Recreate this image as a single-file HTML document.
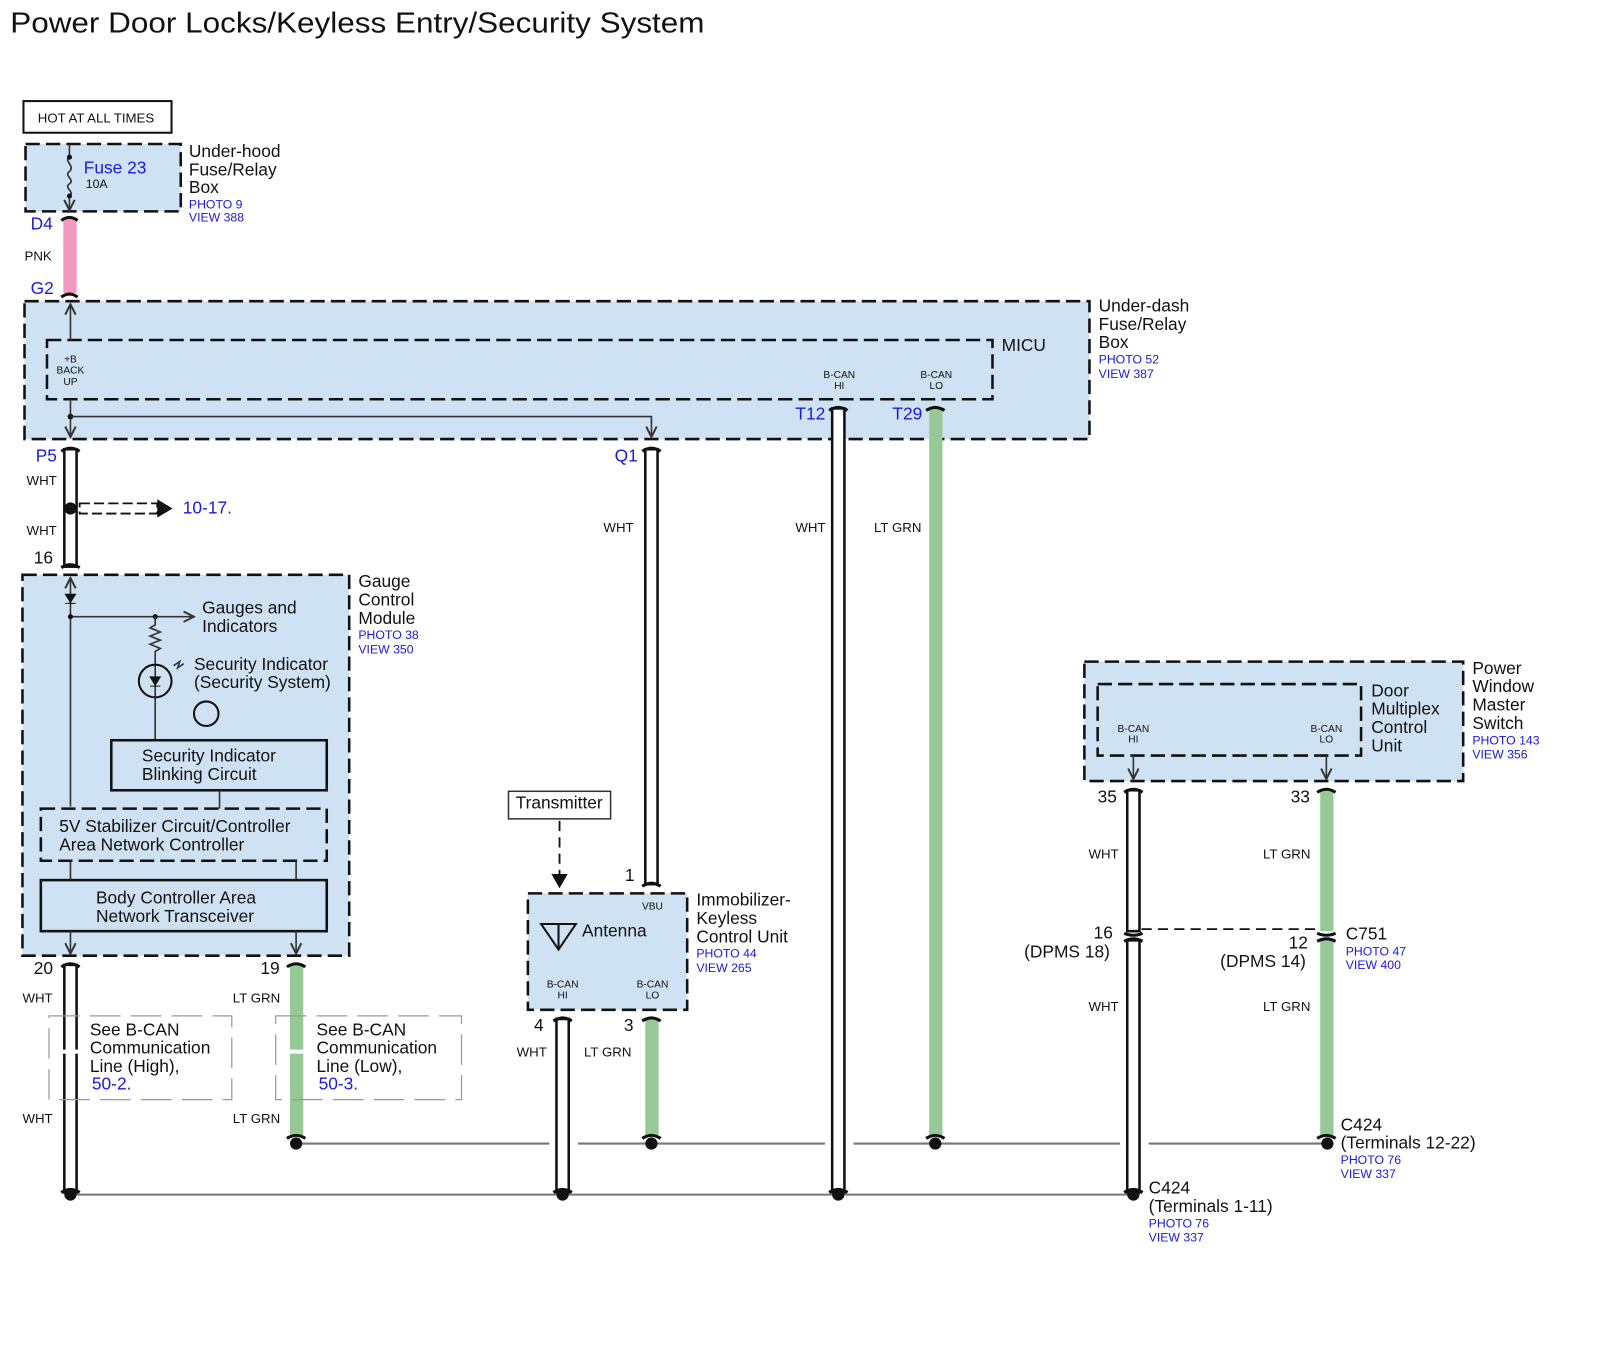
<!DOCTYPE html>
<html><head><meta charset="utf-8"><style>
html,body{margin:0;padding:0;background:#fff;}
svg{display:block;}
text{font-family:"Liberation Sans",Arial,sans-serif;fill:#111;}
.b{fill:#1a1adc;}
.box{fill:#cfe2f3;stroke:#111;stroke-width:2.5;stroke-dasharray:14 6;}
.ibox{fill:none;stroke:#111;stroke-width:2.5;stroke-dasharray:14 6;}
.sbox{fill:#cfe2f3;stroke:#111;stroke-width:2.5;}
.ww{fill:#fff;stroke:#111;stroke-width:2.5;}
.gw{fill:#96c995;stroke:none;}
.cap{fill:none;stroke:#111;stroke-width:3;}
.ln{stroke:#333;stroke-width:1.6;fill:none;}
.gl{stroke:#777;stroke-width:2;fill:none;}
.s17{font-size:17px;} .s13{font-size:13px;} .s12{font-size:12px;} .s10{font-size:10px;}
</style></head><body>
<svg width="1600" height="1360" viewBox="0 0 1567 1332" preserveAspectRatio="none" xmlns="http://www.w3.org/2000/svg">
<defs>
<marker id="ar" viewBox="0 0 10 10" refX="9" refY="5" markerWidth="8" markerHeight="8" orient="auto"><path d="M1,1 L9,5 L1,9" fill="none" stroke="#333" stroke-width="1.5"/></marker>
</defs>
<text x="10" y="32" font-size="28" textLength="680" lengthAdjust="spacingAndGlyphs">Power Door Locks/Keyless Entry/Security System</text>

<rect x="23" y="99" width="145" height="31" fill="#fff" stroke="#111" stroke-width="2"/>
<text x="37" y="120" class="s13">HOT AT ALL TIMES</text>

<rect x="25" y="141" width="152" height="66" class="box"/>
<path d="M68,141 L68,154 M68,168 C62,172 74,176 68,180 C62,184 74,188 68,192 M68,192 L68,206" class="ln" marker-end="url(#ar)"/>
<path d="M68,154 C62,158 74,162 68,168" class="ln"/>
<circle cx="68" cy="154" r="2.5" fill="#111"/><circle cx="68" cy="192" r="2.5" fill="#111"/>
<text x="82" y="170" class="s17 b">Fuse 23</text>
<text x="84" y="184" class="s12">10A</text>
<text x="185" y="154" class="s17">Under-hood</text>
<text x="185" y="172" class="s17">Fuse/Relay</text>
<text x="185" y="189" class="s17">Box</text>
<text x="185" y="204" class="s12 b">PHOTO 9</text>
<text x="185" y="217" class="s12 b">VIEW 388</text>
<text x="30" y="225" class="s17 b">D4</text>
<rect x="62" y="214" width="13" height="73" fill="#f49ac1"/>
<path d="M60,216 Q68,210 76,216" class="cap"/>
<path d="M60,291 Q68,285 76,291" class="cap"/>
<text x="24" y="255" class="s13">PNK</text>
<text x="30" y="288" class="s17 b">G2</text>

<rect x="24" y="295" width="1043" height="135" class="box"/>
<rect x="46" y="333" width="926" height="58" class="ibox"/>
<path d="M69,333 L69,298" class="ln" marker-end="url(#ar)"/>
<text x="69" y="355" class="s10" text-anchor="middle">+B</text>
<text x="69" y="366" class="s10" text-anchor="middle">BACK</text>
<text x="69" y="377" class="s10" text-anchor="middle">UP</text>
<path d="M69,391 L69,428" class="ln" marker-end="url(#ar)"/>
<circle cx="69" cy="408" r="2.8" fill="#111"/>
<path d="M69,408 L638,408 L638,428" class="ln" marker-end="url(#ar)"/>
<text x="981" y="344" class="s17">MICU</text>
<text x="822" y="370" class="s10" text-anchor="middle">B-CAN</text>
<text x="822" y="381" class="s10" text-anchor="middle">HI</text>
<text x="917" y="370" class="s10" text-anchor="middle">B-CAN</text>
<text x="917" y="381" class="s10" text-anchor="middle">LO</text>
<text x="779" y="411" class="s17 b">T12</text>
<text x="874" y="411" class="s17 b">T29</text>
<text x="1076" y="305" class="s17">Under-dash</text>
<text x="1076" y="323" class="s17">Fuse/Relay</text>
<text x="1076" y="341" class="s17">Box</text>
<text x="1076" y="356" class="s12 b">PHOTO 52</text>
<text x="1076" y="370" class="s12 b">VIEW 387</text>

<rect x="63" y="440" width="12" height="115" class="ww"/>
<path d="M60,442 Q69,436 78,442" class="cap"/>
<path d="M60,556 Q69,550 78,556" class="cap"/>
<circle cx="69" cy="498" r="6" fill="#111"/>
<rect x="78" y="493" width="76" height="10" fill="#fff" stroke="#111" stroke-width="1.8" stroke-dasharray="10 4"/>
<path d="M154,489 L169,498 L154,507z" fill="#111"/>
<text x="179" y="503" class="s17 b">10-17.</text>
<text x="35" y="452" class="s17 b">P5</text>
<text x="26" y="475" class="s13">WHT</text>
<text x="26" y="524" class="s13">WHT</text>
<text x="33" y="552" class="s17">16</text>

<rect x="632" y="440" width="12" height="426" class="ww"/>
<path d="M629,442 Q638,436 647,442" class="cap"/>
<path d="M629,868 Q638,862 647,868" class="cap"/>
<text x="602" y="452" class="s17 b">Q1</text>
<text x="591" y="521" class="s13">WHT</text>

<rect x="815" y="400" width="12" height="768" class="ww"/>
<path d="M812,402 Q821,396 830,402" class="cap"/>
<path d="M812,1168 Q821,1162 830,1168" class="cap"/>
<text x="779" y="521" class="s13">WHT</text>

<rect x="910" y="400" width="13" height="713" class="gw"/>
<path d="M907,402 Q916,396 925,402" class="cap"/>
<path d="M907,1115 Q916,1109 925,1115" class="cap"/>
<text x="856" y="521" class="s13">LT GRN</text>

<rect x="22" y="563" width="320" height="373" class="box"/>
<path d="M69,790 L69,566" class="ln" marker-end="url(#ar)"/>
<path d="M64,582 L74,582 L69,590z M64,591 L74,591" fill="#111" stroke="#111" stroke-width="1"/>
<path d="M69,604 L190,604" class="ln" marker-end="url(#ar)"/>
<circle cx="69" cy="604" r="2.5" fill="#111"/><circle cx="152" cy="604" r="2.5" fill="#111"/>
<path d="M152,604 L152,612 L147,615 L157,619 L147,623 L157,627 L147,631 L157,635 L152,638 L152,725" class="ln"/>
<circle cx="152" cy="667" r="16" fill="none" stroke="#111" stroke-width="2"/>
<path d="M147,663 L157,663 L152,671z M147,672 L157,672" fill="#111" stroke="#111" stroke-width="1"/>
<path d="M170,652 L176,648 L174,654 L180,650" class="ln"/>
<circle cx="202" cy="699" r="12" fill="none" stroke="#111" stroke-width="2"/>
<text x="198" y="601" class="s17">Gauges and</text>
<text x="198" y="619" class="s17">Indicators</text>
<text x="190" y="656" class="s17">Security Indicator</text>
<text x="190" y="674" class="s17">(Security System)</text>
<rect x="109" y="725" width="211" height="49" class="sbox"/>
<text x="139" y="746" class="s17">Security Indicator</text>
<text x="139" y="764" class="s17">Blinking Circuit</text>
<path d="M215,774 L215,792" class="ln"/>
<rect x="40" y="792" width="280" height="51" class="ibox" stroke-dasharray="9 5"/>
<text x="58" y="815" class="s17">5V Stabilizer Circuit/Controller</text>
<text x="58" y="833" class="s17">Area Network Controller</text>
<path d="M69,843 L69,862 M290,843 L290,862" class="ln"/>
<rect x="40" y="862" width="280" height="50" class="sbox"/>
<text x="94" y="885" class="s17">Body Controller Area</text>
<text x="94" y="903" class="s17">Network Transceiver</text>
<path d="M69,912 L69,934" class="ln" marker-end="url(#ar)"/>
<path d="M290,912 L290,934" class="ln" marker-end="url(#ar)"/>
<text x="351" y="575" class="s17">Gauge</text>
<text x="351" y="593" class="s17">Control</text>
<text x="351" y="611" class="s17">Module</text>
<text x="351" y="626" class="s12 b">PHOTO 38</text>
<text x="351" y="640" class="s12 b">VIEW 350</text>

<text x="33" y="954" class="s17">20</text>
<text x="255" y="954" class="s17">19</text>
<rect x="63" y="945" width="12" height="223" class="ww"/>
<path d="M60,947 Q69,941 78,947" class="cap"/>
<path d="M60,1168 Q69,1162 78,1168" class="cap"/>
<rect x="284" y="945" width="13" height="168" class="gw"/>
<path d="M281,947 Q290,941 299,947" class="cap"/>
<path d="M281,1115 Q290,1109 299,1115" class="cap"/>
<rect x="60" y="1028" width="20" height="4" fill="#fff"/>
<rect x="280" y="1028" width="20" height="4" fill="#fff"/>
<text x="22" y="982" class="s13">WHT</text>
<text x="228" y="982" class="s13">LT GRN</text>
<text x="22" y="1100" class="s13">WHT</text>
<text x="228" y="1100" class="s13">LT GRN</text>
<rect x="48" y="995" width="179" height="82" fill="none" stroke="#999" stroke-width="1.2" stroke-dasharray="30 10"/>
<rect x="270" y="995" width="182" height="82" fill="none" stroke="#999" stroke-width="1.2" stroke-dasharray="30 10"/>
<text x="88" y="1014" class="s17">See B-CAN</text>
<text x="88" y="1032" class="s17">Communication</text>
<text x="88" y="1050" class="s17">Line (High),</text>
<text x="90" y="1067" class="s17 b">50-2.</text>
<text x="310" y="1014" class="s17">See B-CAN</text>
<text x="310" y="1032" class="s17">Communication</text>
<text x="310" y="1050" class="s17">Line (Low),</text>
<text x="312" y="1067" class="s17 b">50-3.</text>

<rect x="498" y="775" width="100" height="27" fill="#fff" stroke="#333" stroke-width="1.5"/>
<text x="505" y="792" class="s17">Transmitter</text>
<path d="M548,804 L548,856" stroke="#111" stroke-width="1.8" stroke-dasharray="10 6"/>
<path d="M540,856 L556,856 L548,870z" fill="#111"/>
<rect x="517" y="875" width="156" height="114" class="box"/>
<text x="639" y="891" class="s10" text-anchor="middle">VBU</text>
<path d="M530,905 L564,905 L547,930z M547,905 L547,930" fill="none" stroke="#111" stroke-width="2"/>
<text x="570" y="917" class="s17">Antenna</text>
<text x="551" y="967" class="s10" text-anchor="middle">B-CAN</text>
<text x="551" y="978" class="s10" text-anchor="middle">HI</text>
<text x="639" y="967" class="s10" text-anchor="middle">B-CAN</text>
<text x="639" y="978" class="s10" text-anchor="middle">LO</text>
<text x="612" y="863" class="s17">1</text>
<text x="682" y="887" class="s17">Immobilizer-</text>
<text x="682" y="905" class="s17">Keyless</text>
<text x="682" y="923" class="s17">Control Unit</text>
<text x="682" y="938" class="s12 b">PHOTO 44</text>
<text x="682" y="952" class="s12 b">VIEW 265</text>
<text x="523" y="1010" class="s17">4</text>
<text x="611" y="1010" class="s17">3</text>
<rect x="545" y="998" width="12" height="170" class="ww"/>
<path d="M542,1000 Q551,994 560,1000" class="cap"/>
<path d="M542,1168 Q551,1162 560,1168" class="cap"/>
<rect x="632" y="998" width="13" height="115" class="gw"/>
<path d="M629,1000 Q638,994 647,1000" class="cap"/>
<path d="M629,1115 Q638,1109 647,1115" class="cap"/>
<text x="506" y="1035" class="s13">WHT</text>
<text x="572" y="1035" class="s13">LT GRN</text>

<rect x="1062" y="648" width="371" height="117" class="box"/>
<rect x="1075" y="670" width="258" height="70" class="ibox"/>
<text x="1110" y="717" class="s10" text-anchor="middle">B-CAN</text>
<text x="1110" y="727" class="s10" text-anchor="middle">HI</text>
<text x="1299" y="717" class="s10" text-anchor="middle">B-CAN</text>
<text x="1299" y="727" class="s10" text-anchor="middle">LO</text>
<path d="M1110,740 L1110,763" class="ln" marker-end="url(#ar)"/>
<path d="M1299,740 L1299,763" class="ln" marker-end="url(#ar)"/>
<text x="1343" y="682" class="s17">Door</text>
<text x="1343" y="700" class="s17">Multiplex</text>
<text x="1343" y="718" class="s17">Control</text>
<text x="1343" y="736" class="s17">Unit</text>
<text x="1442" y="660" class="s17">Power</text>
<text x="1442" y="678" class="s17">Window</text>
<text x="1442" y="696" class="s17">Master</text>
<text x="1442" y="714" class="s17">Switch</text>
<text x="1442" y="729" class="s12 b">PHOTO 143</text>
<text x="1442" y="743" class="s12 b">VIEW 356</text>
<text x="1075" y="786" class="s17">35</text>
<text x="1264" y="786" class="s17">33</text>
<rect x="1104" y="774" width="12" height="138" class="ww"/>
<rect x="1104" y="921" width="12" height="247" class="ww"/>
<path d="M1101,776 Q1110,770 1119,776" class="cap"/>
<path d="M1101,914 Q1110,918 1119,914" class="cap"/>
<path d="M1101,922 Q1110,917 1119,922" class="cap"/>
<path d="M1101,1168 Q1110,1162 1119,1168" class="cap"/>
<rect x="1293" y="774" width="13" height="138" class="gw"/>
<rect x="1293" y="921" width="13" height="192" class="gw"/>
<path d="M1290,776 Q1299,770 1308,776" class="cap"/>
<path d="M1290,914 Q1299,918 1308,914" class="cap"/>
<path d="M1290,922 Q1299,917 1308,922" class="cap"/>
<path d="M1290,1115 Q1299,1109 1308,1115" class="cap"/>
<path d="M1118,910 L1290,910" stroke="#111" stroke-width="1.8" stroke-dasharray="10 6"/>
<text x="1066" y="841" class="s13">WHT</text>
<text x="1237" y="841" class="s13">LT GRN</text>
<text x="1071" y="919" class="s17">16</text>
<text x="1003" y="938" class="s17">(DPMS 18)</text>
<text x="1262" y="929" class="s17">12</text>
<text x="1195" y="947" class="s17">(DPMS 14)</text>
<text x="1318" y="920" class="s17">C751</text>
<text x="1318" y="936" class="s12 b">PHOTO 47</text>
<text x="1318" y="949" class="s12 b">VIEW 400</text>
<text x="1066" y="990" class="s13">WHT</text>
<text x="1237" y="990" class="s13">LT GRN</text>
<text x="1313" y="1107" class="s17">C424</text>
<text x="1313" y="1125" class="s17">(Terminals 12-22)</text>
<text x="1313" y="1140" class="s12 b">PHOTO 76</text>
<text x="1313" y="1154" class="s12 b">VIEW 337</text>
<text x="1125" y="1169" class="s17">C424</text>
<text x="1125" y="1187" class="s17">(Terminals 1-11)</text>
<text x="1125" y="1202" class="s12 b">PHOTO 76</text>
<text x="1125" y="1216" class="s12 b">VIEW 337</text>

<path d="M290,1120 L538,1120 M566,1120 L808,1120 M836,1120 L1097,1120 M1125,1120 L1300,1120" class="gl"/>
<path d="M69,1170 L1110,1170" class="gl"/>
<circle cx="290" cy="1120" r="6" fill="#111"/>
<circle cx="638" cy="1120" r="6" fill="#111"/>
<circle cx="916" cy="1120" r="6" fill="#111"/>
<circle cx="1300" cy="1120" r="6" fill="#111"/>
<circle cx="69" cy="1170" r="6" fill="#111"/>
<circle cx="551" cy="1170" r="6" fill="#111"/>
<circle cx="821" cy="1170" r="6" fill="#111"/>
<circle cx="1110" cy="1170" r="6" fill="#111"/>
</svg>
</body></html>
